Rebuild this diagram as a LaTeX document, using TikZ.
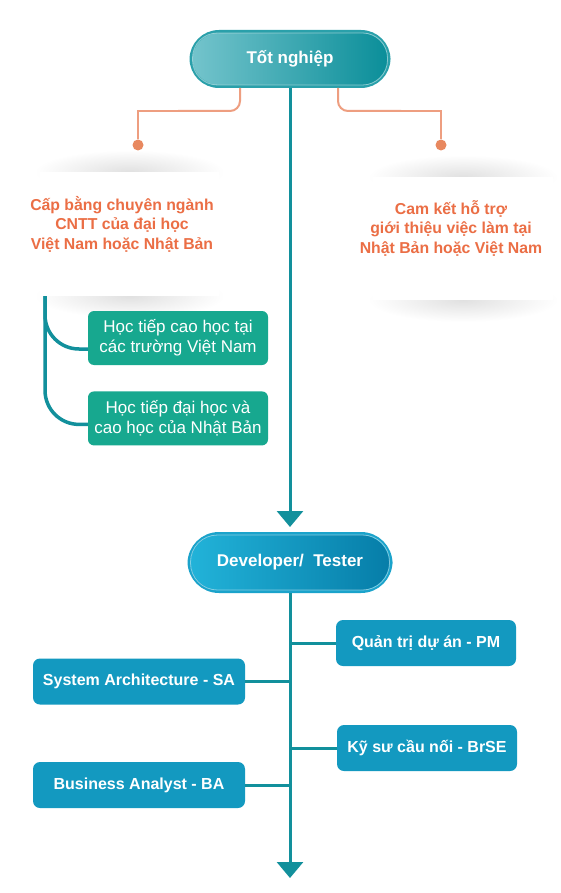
\documentclass[tikz,border=0pt]{standalone}
\usepackage{fontspec}
\setmainfont{Liberation Sans}
\usetikzlibrary{arrows.meta,positioning}
\definecolor{spine}{HTML}{12909C}
\definecolor{peach}{HTML}{EE9E80}
\definecolor{peachdot}{HTML}{E8885F}
\definecolor{rust}{HTML}{EB6E45}
\definecolor{jade}{HTML}{17A88F}
\definecolor{ocean}{HTML}{1399C0}
\definecolor{tealring}{HTML}{2AA0AA}
\definecolor{teallight}{HTML}{74C4CC}
\definecolor{tealdark}{HTML}{0A8E99}
\definecolor{bluering}{HTML}{1BA3CB}
\definecolor{bluelight}{HTML}{22B3D9}
\definecolor{bluedark}{HTML}{067DA8}
\tikzset{
	pill/.style={draw=#1ring, line width=3pt, left color=#1light, right color=#1dark, text=white, font=\bfseries\fontsize{17}{20}\selectfont},
	spineline/.style={draw=spine, line width=3pt, -{Triangle[width=26pt,length=16pt]}},
	spoke/.style={draw=spine, line width=3pt},
	branch/.style={draw=spine, line width=3.5pt, rounded corners=34pt},
	peachline/.style={draw=peach, line width=2pt},
	dot/.style={circle, fill=peachdot, inner sep=0pt, minimum size=11pt},
	cardtext/.style={text=rust, align=center, font=\bfseries\fontsize{15.8}{19.5}\selectfont},
	studybox/.style={fill=jade, rounded corners=6pt, text=white, align=center, minimum width=180pt, minimum height=54pt, inner sep=2pt, font=\fontsize{17}{20}\selectfont},
	rolebox/.style={fill=ocean, rounded corners=7pt, text=white, minimum height=46pt, font=\bfseries\fontsize{16}{18}\selectfont}
}
\begin{document}
\begin{tikzpicture}[x=1pt, y=-1pt]
	\useasboundingbox (0,0) rectangle (560,893);
	\fill[white] (0,0) rectangle (560,893);
	% cards with soft shadows
	\foreach \cx/\xa/\xb/\ya/\yb in {129.5/40/219/172/296, 463/373/553/177/300} {
		\shade[inner color=black!12, outer color=white] (\cx,\ya) ellipse [x radius=95, y radius=22];
		\shade[inner color=black!12, outer color=white] (\cx,\yb) ellipse [x radius=95, y radius=22];
		\fill[white] (\xa,\ya) rectangle (\xb,\yb);
	}
	\node[pill=teal, minimum width=198pt, minimum height=55pt, rounded corners=28pt] (grad) at (290,59) {Tốt nghiệp};
	\draw[white, opacity=.45, line width=.8pt, rounded corners=25pt] ([shift={(3,3)}]grad.north west) rectangle ([shift={(-3,-3)}]grad.south east);
	\node[pill=blue, minimum width=202pt, minimum height=58pt, rounded corners=30pt] (dev) at (290,562.5) {Developer/\ \ Tester};
	\draw[white, opacity=.45, line width=.8pt, rounded corners=27pt] ([shift={(3,3)}]dev.north west) rectangle ([shift={(-3,-3)}]dev.south east);
	% orange links
	\node[dot] (dotL) at (138,145) {};
	\node[dot] (dotR) at (441,145) {};
	\coordinate (kneeL) at (138,111);
	\coordinate (kneeR) at (441,111);
	\draw[peachline, rounded corners=10pt] ([xshift=-50pt]grad.south) |- ([xshift=40pt]kneeL);
	\draw[peachline] ([xshift=50pt]kneeL) -- (kneeL) -- (dotL);
	\draw[peachline, rounded corners=10pt] ([xshift=48pt]grad.south) |- ([xshift=-40pt]kneeR);
	\draw[peachline] ([xshift=-50pt]kneeR) -- (kneeR) -- (dotR);
	\node[cardtext] (degree) at (122,224) {Cấp bằng chuyên ngành\\CNTT của đại học\\Việt Nam hoặc Nhật Bản};
	\node[cardtext] (jobs) at (451,228) {Cam kết hỗ trợ\\giới thiệu việc làm tại\\Nhật Bản hoặc Việt Nam};
	% further study
	\node[studybox] (hs1) at (178,338) {Học tiếp cao học tại\\các trường Việt Nam};
	\node[studybox, below=26pt of hs1] (hs2) {Học tiếp đại học và\\cao học của Nhật Bản};
	\coordinate (root) at (45,296);
	\draw[branch] (root) |- ([yshift=-11pt]hs1.west);
	\draw[branch] (root) |- ([yshift=-6pt]hs2.west);
	\draw[spineline] (grad.south) -- ([yshift=5pt]dev.north);
	% careers
	\node[rolebox, minimum width=180pt] (pm) at (426,643) {Quản trị dự án - PM};
	\node[rolebox, minimum width=212pt] (sa) at (139,681.5) {System Architecture - SA};
	\node[rolebox, minimum width=180pt] (brse) at (427,748) {Kỹ sư cầu nối - BrSE};
	\node[rolebox, minimum width=212pt] (ba) at (139,785) {Business Analyst - BA};
	\coordinate (tail) at (290,878);
	\draw[spineline] (dev.south) -- (tail);
	\draw[spoke] (pm.west) -- (pm.west -| dev.south);
	\draw[spoke] (brse.west) -- (brse.west -| dev.south);
	\draw[spoke] (sa.east) -- (sa.east -| dev.south);
	\draw[spoke] (ba.east) -- (ba.east -| dev.south);
\end{tikzpicture}
\end{document}
